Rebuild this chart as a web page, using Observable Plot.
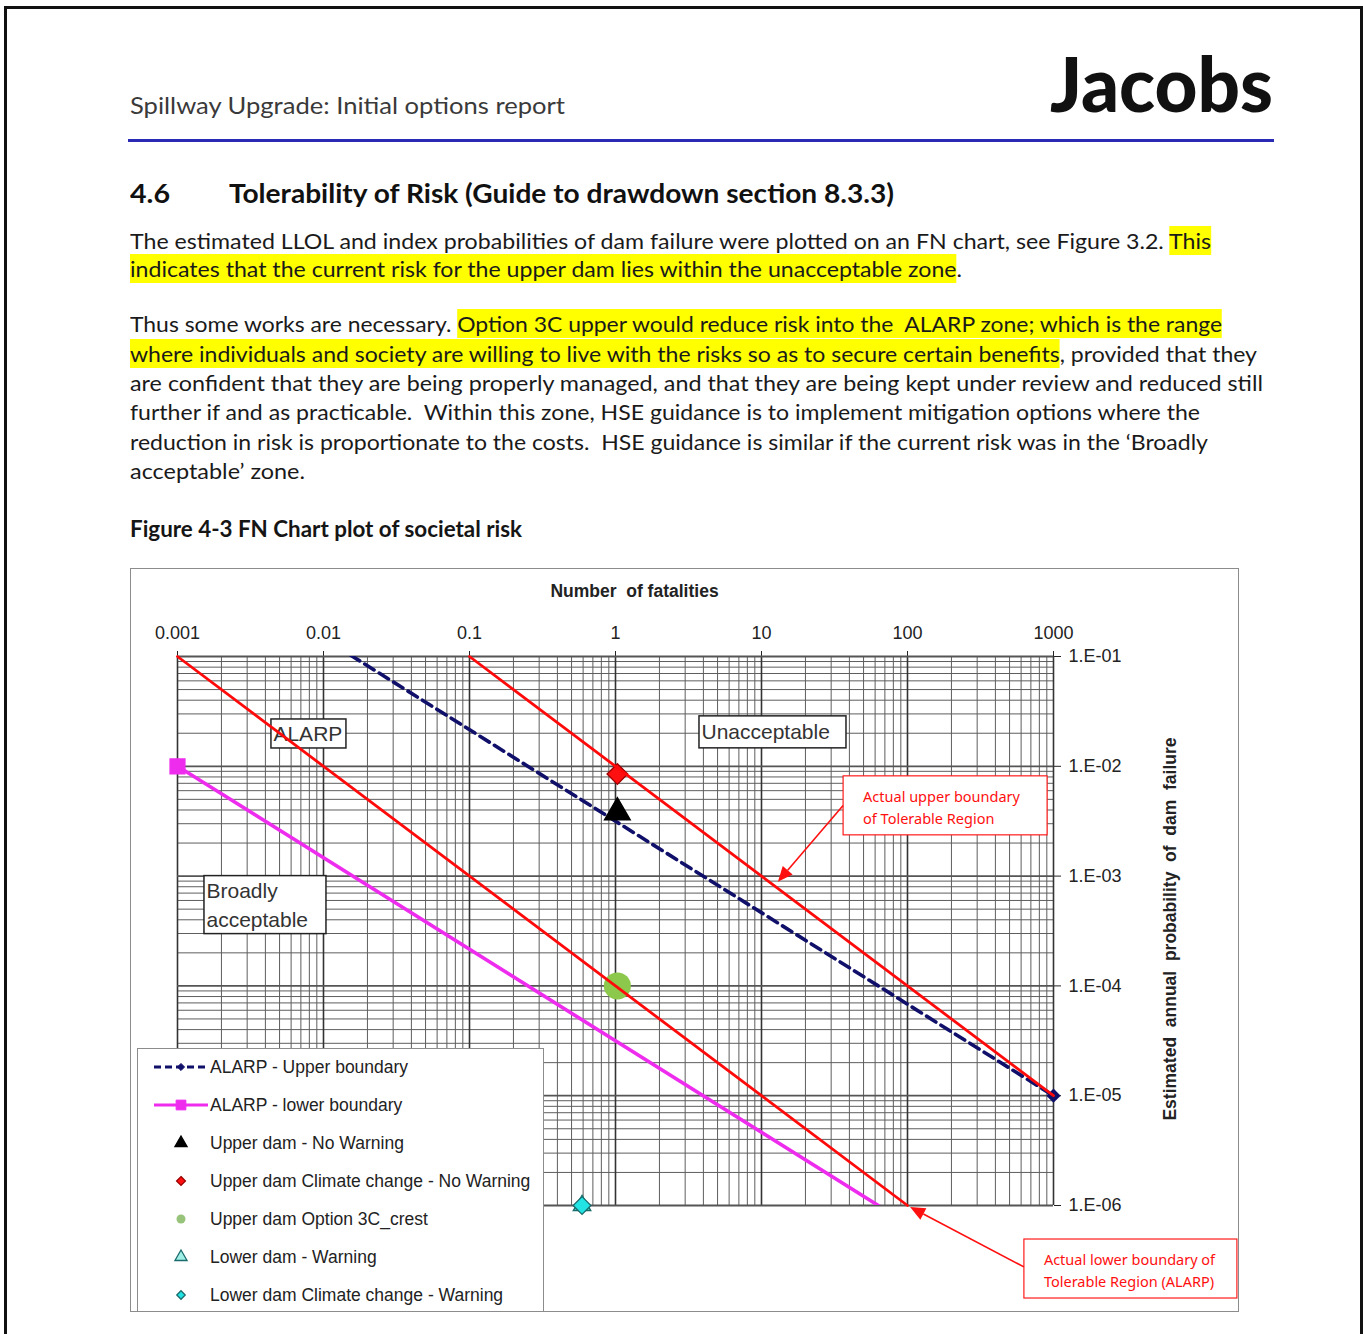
<!DOCTYPE html>
<html>
<head>
<meta charset="utf-8">
<script src="https://cdn.jsdelivr.net/npm/d3@7"></script>
<script src="https://cdn.jsdelivr.net/npm/@observablehq/plot@0.6"></script>
<style>
  html, body { margin: 0; padding: 0; background: #fff; }
  body { width: 1363px; height: 1334px; position: relative; overflow: hidden; font-family: Lato, "Noto Sans", sans-serif; }
  .abs { position: absolute; white-space: pre; transform-origin: 0 50%; }
  .hl { background: #ffff00; padding: 2px 0 2px 0; }
  #pageborder { position: absolute; left: 4px; top: 6px; width: 1353px; height: 1400px; border: 3px solid #111; }
  #bluerule { position: absolute; left: 128px; top: 139px; width: 1146px; height: 3px; background: #2a2ab5; }
  #chartwrap { position: absolute; left: 130px; top: 568px; width: 1109px; height: 744px; background: #fff; }
  #chartframe { position: absolute; left: 130px; top: 568px; width: 1109px; height: 744px; box-sizing: border-box; border: 1.5px solid #8c8c8c; pointer-events: none; }
  #legend { position: absolute; left: 137px; top: 1048px; width: 407px; height: 264px; box-sizing: border-box; border: 1px solid #8c8c8c; background: #fff; font-family: "Liberation Sans", Arial, sans-serif; font-size: 17.5px; color: #222; }
  .legitem { position: absolute; left: 0; height: 30px; width: 405px; }
  .legitem svg { position: absolute; left: 14px; top: 0; }
  .legitem span { position: absolute; left: 72px; top: 50%; transform: translateY(-50%); white-space: nowrap; }
</style>
</head>
<body>
<div id="pageborder"></div>
<div id="bluerule"></div>
<div id="chartwrap"></div>
<div id="chartframe"></div>
<div id="legend"></div>
<script>
// ---------------- chart data ----------------
const xTickValues = [0.001, 0.01, 0.1, 1, 10, 100, 1000];
const yTickValues = [1e-1, 1e-2, 1e-3, 1e-4, 1e-5, 1e-6];

// ALARP boundary series (N fatalities, annual probability F)
const alarpUpperN = [0.001, 1000];
const alarpUpperF = [1, 1e-5];
const alarpLowerN = [0.001, 1000];
const alarpLowerF = [1e-2, 1e-7];

// Hand-drawn "actual" boundaries (red)
const actualUpperN = [0.1, 1000];
const actualUpperF = [0.1, 1e-5];
const actualLowerN = [0.001, 100];
const actualLowerF = [0.1, 1e-6];

// Point series
const pointSeries = [
  "Upper dam - No Warning",
  "Upper dam Climate change - No Warning",
  "Upper dam Option 3C_crest",
  "Lower dam - Warning",
  "Lower dam Climate change - Warning"
];
const pointN = [1.03, 1.03, 1.03, 0.59, 0.59];
const pointF = [0.0038, 0.0085, 1.0e-4, 1e-6, 1e-6];

// Zone labels (anchored at their top-left corner, in data units)
const zoneLabels = ["ALARP", "Unacceptable", "Broadly\nacceptable"];
const zoneLabelN = [0.0044, 3.76, 0.00153];
const zoneLabelF = [0.0267, 0.0285, 0.001];

// Red callouts
const calloutTexts = ["Actual upper boundary\nof Tolerable Region", "Actual lower boundary of\nTolerable Region (ALARP)"];
const calloutBoxN = [36.5, 632];
const calloutBoxF = [0.0081, 4.9e-7];
const calloutFromN = [36.5, 632];
const calloutFromF = [0.00434, 2.73e-7];
const calloutToN = [13.06, 105];
const calloutToF = [8.8e-4, 9.6e-7];

// ---------------- styles ----------------
const navy = "#10106a";
const magenta = "#ee2cee";
const pointStyle = [
  {symbol: "triangle", fill: "#000", stroke: "#000", r: 9.6, lr: 4.5},
  {symbol: "diamond2", fill: "#ff1010", stroke: "#9a0000", r: 9.3, lr: 4},
  {symbol: "circle", fill: "#8cc84b", stroke: "none", r: 13.5, lr: 4.5, lfill: "#97c47a"},
  {symbol: "triangle", fill: "#3fc8b8", stroke: "#1a6b6b", r: 6.5, lr: 4.5, lfill: "#9fefe6"},
  {symbol: "diamond2", fill: "#22e4e4", stroke: "#1a6b6b", r: 8, lr: 3.8}
];
const zoneBoxSize = [{w: 75, h: 29}, {w: 147, h: 32}, {w: 122, h: 58}];
const calloutBoxSize = [{w: 204, h: 59}, {w: 213, h: 59}];

// ---------------- page text ----------------
const textLines = [
  {x: 130, y: 104, w: 435, size: 24, weight: 400, color: "#3a3a3a", segs: [["Spillway Upgrade: Initial options report"]]},
  {x: 130, y: 193, w: 40, size: 26, weight: 700, color: "#111", segs: [["4.6"]]},
  {x: 229, y: 193, w: 665, size: 26, weight: 700, color: "#111", segs: [["Tolerability of Risk (Guide to drawdown section 8.3.3)"]]},
  {x: 130, y: 240, w: 1081, segs: [["The estimated LLOL and index probabilities of dam failure were plotted on an FN chart, see Figure 3.2. "], ["This", 1]]},
  {x: 130, y: 268, w: 832, segs: [["indicates that the current risk for the upper dam lies within the unacceptable zone", 1], ["."]]},
  {x: 130, y: 323, w: 1092, segs: [["Thus some works are necessary. "], ["Option 3C upper would reduce risk into the  ALARP zone; which is the range", 1]]},
  {x: 130, y: 353, w: 1127, segs: [["where individuals and society are willing to live with the risks so as to secure certain benefits", 1], [", provided that they"]]},
  {x: 130, y: 382, w: 1133, segs: [["are confident that they are being properly managed, and that they are being kept under review and reduced still"]]},
  {x: 130, y: 411, w: 1070, segs: [["further if and as practicable.  Within this zone, HSE guidance is to implement mitigation options where the"]]},
  {x: 130, y: 441, w: 1078, segs: [["reduction in risk is proportionate to the costs.  HSE guidance is similar if the current risk was in the \u2018Broadly"]]},
  {x: 130, y: 470, w: 175, segs: [["acceptable\u2019 zone."]]},
  {x: 130, y: 528, w: 392, size: 22, weight: 700, color: "#151515", segs: [["Figure 4-3 FN Chart plot of societal risk"]]},
  {x: 1050, y: 83, w: 223, size: 76, weight: 900, color: "#111", lh: 80, segs: [["Jacobs"]]}
];

for (const t of textLines) {
  const size = t.size || 21, lh = t.lh || 29;
  const el = document.createElement("div");
  el.className = "abs";
  el.style.left = t.x + "px";
  el.style.top = (t.y - lh / 2) + "px";
  el.style.height = lh + "px";
  el.style.lineHeight = lh + "px";
  el.style.fontSize = size + "px";
  el.style.fontWeight = t.weight || 400;
  el.style.color = t.color || "#1a1a1a";
  for (const [s, h] of t.segs) {
    const sp = document.createElement("span");
    sp.textContent = s;
    if (h) sp.className = "hl";
    el.appendChild(sp);
  }
  document.body.appendChild(el);
  const w = el.getBoundingClientRect().width;
  el.style.transform = `scaleX(${t.w / w})`;
}

// ---------------- chart ----------------
const toPts = (N, F) => N.map((n, i) => ({n, f: F[i]}));
const inDomain = d => d.n >= 0.001 && d.n <= 1000 && d.f >= 1e-6 && d.f <= 0.1;

const minorX = [];
for (let e = -3; e < 3; e++) for (let k = 2; k <= 9; k++) minorX.push(k * Math.pow(10, e));
const minorY = [];
for (let e = -6; e < -1; e++) for (let k = 2; k <= 9; k++) minorY.push(k * Math.pow(10, e));

const fmtE = d => "1.E-" + String(Math.round(-Math.log10(d))).padStart(2, "0");

function zoneLabelMark(index, scales) {
  const g = d3.create("svg:g");
  zoneLabels.forEach((t, i) => {
    const x = scales.x(zoneLabelN[i]), y = scales.y(zoneLabelF[i]);
    const s = zoneBoxSize[i];
    g.append("rect").attr("x", x).attr("y", y).attr("width", s.w).attr("height", s.h)
      .attr("fill", "#fff").attr("stroke", "#222").attr("stroke-width", 1.5);
    const lines = t.split("\n");
    lines.forEach((ln, j) => {
      g.append("text").attr("x", x + 2.5).attr("y", y + s.h / lines.length * (j + 0.5))
        .attr("dy", "0.36em").attr("font-size", 21).attr("fill", "#333").attr("text-anchor", "start")
        .attr("font-family", "'Liberation Sans', Arial, sans-serif").text(ln);
    });
  });
  return g.node();
}

function calloutMark(index, scales) {
  const g = d3.create("svg:g");
  calloutTexts.forEach((t, i) => {
    const x = scales.x(calloutBoxN[i]), y = scales.y(calloutBoxF[i]);
    const s = calloutBoxSize[i];
    g.append("rect").attr("x", x).attr("y", y).attr("width", s.w).attr("height", s.h)
      .attr("fill", "#fff").attr("stroke", "#ff1a1a").attr("stroke-width", 1.2);
    t.split("\n").forEach((ln, j) => {
      g.append("text").attr("x", x + 20).attr("y", y + 21 + j * 22)
        .attr("dy", "0.35em").attr("font-size", 14.5).attr("fill", "#ff1010").attr("text-anchor", "start")
        .attr("font-family", "'Noto Sans', 'Open Sans', sans-serif").text(ln);
    });
    const x1 = scales.x(calloutFromN[i]), y1 = scales.y(calloutFromF[i]);
    const x2 = scales.x(calloutToN[i]), y2 = scales.y(calloutToF[i]);
    const len = Math.hypot(x2 - x1, y2 - y1), ux = (x2 - x1) / len, uy = (y2 - y1) / len;
    const L = 15, W = 6.5;
    const bx = x2 - ux * L, by = y2 - uy * L;
    g.append("line").attr("x1", x1).attr("y1", y1).attr("x2", bx).attr("y2", by)
      .attr("stroke", "#ff1010").attr("stroke-width", 1.6);
    g.append("polygon").attr("points", `${x2},${y2} ${bx - uy * W},${by + ux * W} ${bx + uy * W},${by - ux * W}`)
      .attr("fill", "#ff1010");
  });
  return g.node();
}

const pointMarks = pointSeries.map((name, i) => {
  const s = pointStyle[i];
  return Plot.dot([{n: pointN[i], f: pointF[i]}], {
    x: "n", y: "f", symbol: s.symbol, r: s.r, fill: s.fill,
    stroke: s.stroke, strokeWidth: 1.3
  });
});
// draw the lower-dam triangle under its diamond
const pointOrder = [3, 4, 2, 0, 1];

const chart = Plot.plot({
  width: 1109,
  height: 744,
  marginLeft: 47,
  marginTop: 88,
  marginRight: 186,
  marginBottom: 107,
  style: {background: "transparent", fontFamily: "'Liberation Sans', Arial, sans-serif", fontSize: "18px", color: "#222", overflow: "visible"},
  x: {type: "log", domain: [0.001, 1000], axis: "top", ticks: xTickValues, tickFormat: d => String(d), tickSize: 6, tickPadding: 12, label: null},
  y: {type: "log", domain: [1e-6, 0.1], axis: "right", ticks: yTickValues, tickFormat: fmtE, tickSize: 7, tickPadding: 8, label: null},
  marks: [
    Plot.ruleX(minorX, {stroke: "#5e5e5e", strokeWidth: 1}),
    Plot.ruleY(minorY, {stroke: "#5e5e5e", strokeWidth: 1}),
    Plot.ruleX(xTickValues, {stroke: "#333", strokeWidth: 1.6}),
    Plot.ruleY(yTickValues, {stroke: "#555", strokeWidth: 1.8}),
    zoneLabelMark,
    Plot.line(toPts(alarpUpperN, alarpUpperF), {x: "n", y: "f", stroke: navy, strokeWidth: 3.6, strokeDasharray: "11,6", clip: true}),
    Plot.line(toPts(alarpLowerN, alarpLowerF), {x: "n", y: "f", stroke: magenta, strokeWidth: 3.6, clip: true}),
    Plot.dot(toPts(alarpUpperN, alarpUpperF).filter(inDomain), {x: "n", y: "f", symbol: "diamond2", r: 5.5, fill: navy, stroke: navy}),
    Plot.dot(toPts(alarpLowerN, alarpLowerF).filter(inDomain), {x: "n", y: "f", symbol: "square", r: 8.3, fill: magenta, stroke: magenta}),
    ...pointOrder.map(i => pointMarks[i]),
    Plot.line(toPts(actualUpperN, actualUpperF), {x: "n", y: "f", stroke: "#ff0a0a", strokeWidth: 2.8}),
    Plot.line(toPts(actualLowerN, actualLowerF), {x: "n", y: "f", stroke: "#ff0a0a", strokeWidth: 2.8}),
    calloutMark,
    Plot.text(["Number  of fatalities"], {text: d => d, frameAnchor: "top", textAnchor: "middle", dx: 19, dy: -72, fontWeight: "bold", fontSize: 17.5, fill: "#222"}),
    Plot.text(["Estimated  annual  probability  of  dam  failure"], {text: d => d, frameAnchor: "right", textAnchor: "middle", dx: 117, dy: -2, rotate: -90, fontWeight: "bold", fontSize: 17.5, fill: "#222"})
  ]
});
document.getElementById("chartwrap").appendChild(chart);

// ---------------- legend ----------------
const legend = document.getElementById("legend");
const legendRows = [
  {name: "ALARP - Upper boundary", kind: "line", color: navy, dash: "7,4", symbol: "diamond2", r: 3.2},
  {name: "ALARP - lower boundary", kind: "line", color: magenta, dash: null, symbol: "square", r: 5.5},
  ...pointSeries.map((name, i) => ({name, kind: "point", idx: i}))
];
legendRows.forEach((row, k) => {
  const item = document.createElement("div");
  item.className = "legitem";
  item.style.top = (18 + k * 38 - 15) + "px";
  const svg = d3.create("svg").attr("width", 58).attr("height", 30);
  if (row.kind === "line") {
    svg.append("line").attr("x1", 2).attr("x2", 56).attr("y1", 15).attr("y2", 15)
      .attr("stroke", row.color).attr("stroke-width", 3).attr("stroke-dasharray", row.dash);
    svg.append("path").attr("transform", "translate(29,15)")
      .attr("d", d3.symbol(row.symbol === "square" ? d3.symbolSquare : d3.symbolDiamond2, Math.PI * row.r * row.r)())
      .attr("fill", row.color).attr("stroke", row.color);
  } else {
    const s = pointStyle[row.idx];
    const type = {triangle: d3.symbolTriangle, diamond2: d3.symbolDiamond2, circle: d3.symbolCircle}[s.symbol];
    svg.append("path").attr("transform", "translate(29,15)")
      .attr("d", d3.symbol(type, Math.PI * s.lr * s.lr)())
      .attr("fill", s.lfill || s.fill).attr("stroke", s.stroke === "none" ? "none" : s.stroke).attr("stroke-width", 1.3);
  }
  item.appendChild(svg.node());
  const sp = document.createElement("span");
  sp.textContent = row.name;
  item.appendChild(sp);
  legend.appendChild(item);
});
</script>
</body>
</html>
